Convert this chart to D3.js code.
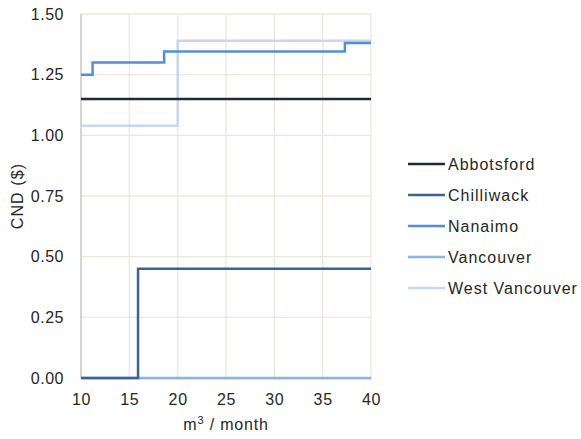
<!DOCTYPE html>
<html>
<head>
<meta charset="utf-8">
<script src="https://cdn.jsdelivr.net/npm/d3@7"></script>
<style>
  html, body { margin: 0; padding: 0; background: #fff; }
  svg text { font-family: "Liberation Sans", Arial, sans-serif; fill: #262626; }
</style>
</head>
<body>
<svg id="chart" width="581" height="439"></svg>
<script>
// Monthly water charge per m³ by consumption band (step functions)
const cities = ["Abbotsford", "Chilliwack", "Nanaimo", "Vancouver", "West Vancouver"];
const colors = ["#1c2b40", "#3c6193", "#538dd5", "#8cb3e1", "#c5d8f0"];

// breakpoints (m³/month) and the rate that applies from each breakpoint on
const abbotsfordX = [10, 40];
const abbotsfordY = [1.15, 1.15];
const chilliwackX = [10, 15.9, 40];
const chilliwackY = [0, 0.45, 0.45];
const nanaimoX = [10, 11.2, 18.6, 37.3, 40];
const nanaimoY = [1.25, 1.30, 1.345, 1.38, 1.38];
const vancouverX = [10, 40];
const vancouverY = [0, 0];
const westVancouverX = [10, 20, 40];
const westVancouverY = [1.04, 1.39, 1.39];

const xTicks = [10, 15, 20, 25, 30, 35, 40];
const yTicks = [0, 0.25, 0.5, 0.75, 1.0, 1.25, 1.5];

const seriesX = [abbotsfordX, chilliwackX, nanaimoX, vancouverX, westVancouverX];
const seriesY = [abbotsfordY, chilliwackY, nanaimoY, vancouverY, westVancouverY];

const svg = d3.select("#chart");
const plot = { left: 81, right: 371, top: 14, bottom: 378 };

const x = d3.scaleLinear().domain([10, 40]).range([plot.left, plot.right]);
const y = d3.scaleLinear().domain([0, 1.5]).range([plot.bottom, plot.top]);

// gridlines
const grid = svg.append("g");
grid.selectAll("line.gx").data(xTicks.slice(1)).join("line")
  .attr("x1", d => x(d)).attr("x2", d => x(d))
  .attr("y1", plot.top).attr("y2", plot.bottom)
  .attr("stroke", "#ece8de").attr("stroke-width", 1.3);
grid.selectAll("line.gy").data(yTicks.slice(1)).join("line")
  .attr("x1", plot.left).attr("x2", plot.right)
  .attr("y1", d => y(d)).attr("y2", d => y(d))
  .attr("stroke", "#ece8de").attr("stroke-width", 1.3);

// y axis line
svg.append("line")
  .attr("x1", plot.left).attr("x2", plot.left)
  .attr("y1", plot.top).attr("y2", plot.bottom)
  .attr("stroke", "#bfbfbf").attr("stroke-width", 1.3);

// x axis
const xAxis = svg.append("g")
  .attr("transform", `translate(0,${plot.bottom})`)
  .call(d3.axisBottom(x).tickValues(xTicks).tickSize(0).tickPadding(16).tickFormat(d3.format("d")));
xAxis.select(".domain").attr("stroke", "#bfbfbf").attr("stroke-width", 1.3);
xAxis.selectAll("text")
  .style("font-size", "16px").style("letter-spacing", "0.7px")
  .attr("fill", "#262626");

// y axis labels
const yAxis = svg.append("g")
  .attr("transform", `translate(${plot.left},0)`)
  .call(d3.axisLeft(y).tickValues(yTicks).tickSize(0).tickPadding(17).tickFormat(d3.format(".2f")));
yAxis.select(".domain").remove();
yAxis.selectAll("text")
  .style("font-size", "16px").style("letter-spacing", "0.5px")
  .attr("fill", "#262626");

// axis titles
svg.append("text")
  .attr("transform", `translate(23,${(plot.top + plot.bottom) / 2}) rotate(-90)`)
  .attr("text-anchor", "middle")
  .style("font-size", "16px").style("letter-spacing", "1.1px")
  .text("CND ($)");

const xt = svg.append("text")
  .attr("x", (plot.left + plot.right) / 2)
  .attr("y", 430)
  .attr("text-anchor", "middle")
  .style("font-size", "16px").style("letter-spacing", "0.8px");
xt.append("tspan").text("m");
xt.append("tspan").attr("dy", -6).style("font-size", "11px").text("3");
xt.append("tspan").attr("dy", 6).text(" / month");

// step lines
const line = d3.line()
  .x(d => x(d[0]))
  .y(d => y(d[1]))
  .curve(d3.curveStepAfter);

const order = [4, 3, 0, 1, 2];
order.forEach(i => {
  const pts = seriesX[i].map((v, k) => [v, seriesY[i][k]]);
  svg.append("path")
    .datum(pts)
    .attr("d", line)
    .attr("fill", "none")
    .attr("stroke", colors[i])
    .attr("stroke-width", 2.5);
});

// legend
const legend = svg.append("g");
cities.forEach((c, i) => {
  const ly = 164 + i * 31;
  legend.append("line")
    .attr("x1", 408).attr("x2", 445)
    .attr("y1", ly).attr("y2", ly)
    .attr("stroke", colors[i]).attr("stroke-width", 2.5);
  legend.append("text")
    .attr("x", 448).attr("y", ly + 6)
    .style("font-size", "16px").style("letter-spacing", "1px")
    .text(c);
});
</script>
</body>
</html>
